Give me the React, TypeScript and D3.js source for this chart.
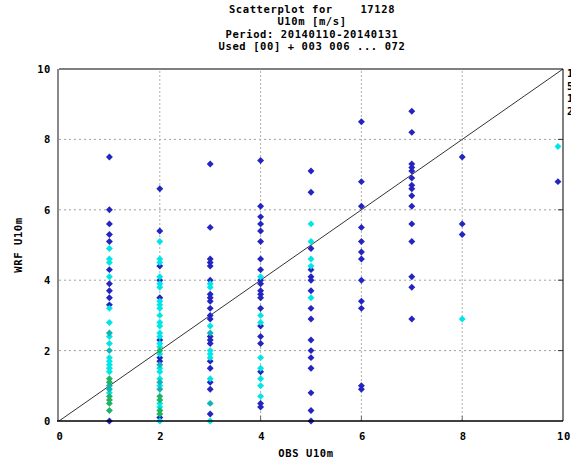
import React from "react";
import * as d3 from "d3";

const titleLines = [
  "Scatterplot for    17128",
  "U10m [m/s]",
  "Period: 20140110-20140131",
  "Used [00] + 003 006 ... 072",
];
const xLabel = "OBS U10m";
const yLabel = "WRF U10m";
const xTicks = [0, 2, 4, 6, 8, 10];
const yTicks = [0, 2, 4, 6, 8, 10];
const legendLabels = ["1", "5", "10", "25"];

// [OBS, WRF] pairs grouped by density colour
const bluePts: [number, number][] = [
  [1, 7.5], [1, 6.0], [1, 5.6], [1, 5.3], [1, 5.1], [1, 4.3], [1, 3.9], [1, 3.7], [1, 3.5], [1, 3.3], [1, 0.0],
  [2, 6.6], [2, 5.4], [2, 4.4], [2, 4.0], [2, 3.5], [2, 2.3], [2, 1.8], [2, 1.7], [2, 0.1],
  [3, 7.3], [3, 5.5], [3, 4.6], [3, 4.5], [3, 4.4], [3, 4.0], [3, 3.6], [3, 3.5], [3, 3.4], [3, 3.2], [3, 3.0], [3, 2.9],
  [3, 2.4], [3, 2.3], [3, 2.2], [3, 1.7], [3, 1.5], [3, 1.1], [3, 0.9], [3, 0.2],
  [4, 7.4], [4, 6.1], [4, 5.8], [4, 5.6], [4, 5.4], [4, 5.1], [4, 4.6], [4, 4.3], [4, 4.0], [4, 3.9], [4, 3.7], [4, 3.6],
  [4, 3.5], [4, 3.2], [4, 2.7], [4, 2.4], [4, 2.2], [4, 1.4], [4, 0.5], [4, 0.4],
  [5, 7.1], [5, 6.5], [5, 4.9], [5, 4.3], [5, 4.1], [5, 4.0], [5, 3.7], [5, 3.2], [5, 2.9], [5, 2.3], [5, 2.0], [5, 1.8],
  [5, 1.5], [5, 0.8], [5, 0.3], [5, 0.0],
  [6, 8.5], [6, 6.8], [6, 6.1], [6, 5.5], [6, 5.1], [6, 4.8], [6, 4.6], [6, 4.0], [6, 3.4], [6, 3.2], [6, 1.0], [6, 0.9],
  [7, 8.8], [7, 8.2], [7, 7.3], [7, 7.2], [7, 7.1], [7, 6.9], [7, 6.7], [7, 6.6], [7, 6.4], [7, 6.1], [7, 5.6], [7, 5.1],
  [7, 4.1], [7, 3.8], [7, 2.9],
  [8, 7.5], [8, 5.6], [8, 5.3],
  [9.9, 6.8],
];
const cyanPts: [number, number][] = [
  [1, 4.9], [1, 4.6], [1, 4.5], [1, 4.1], [1, 3.2], [1, 2.8], [1, 2.4], [1, 2.2], [1, 1.8], [1, 1.7], [1, 1.6], [1, 1.5],
  [1, 1.4], [1, 0.8],
  [2, 5.1], [2, 4.6], [2, 4.5], [2, 4.1], [2, 3.9], [2, 3.8], [2, 3.4], [2, 3.3], [2, 3.2], [2, 3.0], [2, 2.8], [2, 2.7],
  [2, 2.5], [2, 2.4], [2, 2.2], [2, 2.1], [2, 1.9], [2, 1.5], [2, 1.4], [2, 1.2], [2, 1.0], [2, 0.5], [2, 0.4], [2, 0.0],
  [3, 3.9], [3, 3.8], [3, 2.7], [3, 2.0], [3, 1.9], [3, 1.8], [3, 1.2], [3, 0.0],
  [4, 4.1], [4, 3.0], [4, 2.8], [4, 1.8], [4, 1.5], [4, 1.2], [4, 1.0], [4, 0.7],
  [5, 5.6], [5, 5.1], [5, 4.6], [5, 4.4], [5, 3.5],
  [8, 2.9],
  [9.9, 7.8],
];
const tealPts: [number, number][] = [
  [1, 2.5], [1, 2.0], [1, 1.0], [1, 0.9],
  [2, 1.6], [2, 1.1], [2, 0.9],
  [3, 2.5], [3, 0.5],
];
const greenPts: [number, number][] = [
  [1, 1.2], [1, 1.1], [1, 0.7], [1, 0.6], [1, 0.5], [1, 0.3],
  [2, 2.0], [2, 0.7], [2, 0.6], [2, 0.3], [2, 0.2],
];

const W = 571;
const H = 462;
const FONT = "'DejaVu Sans Mono', monospace";
const FS = 10.5;
const LS = 0.6;

export default function App() {
  const x = d3.scaleLinear().domain([0, 10]).range([59, 563]);
  const y = d3.scaleLinear().domain([0, 10]).range([421, 69]);
  const marker = d3.symbol().type(d3.symbolSquare).size(24)() as string;

  const series: { pts: [number, number][]; color: string }[] = [
    { pts: bluePts, color: "#2424c0" },
    { pts: cyanPts, color: "#00e6e6" },
    { pts: tealPts, color: "#10b4b4" },
    { pts: greenPts, color: "#1eb466" },
  ];

  const grid = [2, 4, 6, 8];
  const titleX = (x(0) + x(10)) / 2 + 1;

  return (
    <svg
      width={W}
      height={H}
      style={{ position: "absolute", left: 0, top: 0, background: "#fff" }}
      fontFamily={FONT}
      fontWeight="bold"
      letterSpacing={LS}
    >
      <rect x={0} y={0} width={W} height={H} fill="#fff" />
      {titleLines.map((t, i) => (
        <text key={t} x={titleX} y={13 + i * 12.3} textAnchor="middle" fontSize={FS} fill="#000" style={{ whiteSpace: "pre" }}>
          {t}
        </text>
      ))}
      {grid.map((g) => (
        <line key={"gy" + g} x1={x(0)} x2={x(10)} y1={y(g)} y2={y(g)} stroke="#a0a0a0" strokeDasharray="2,3" strokeWidth={1} />
      ))}
      {grid.map((g) => (
        <line key={"gx" + g} x1={x(g)} x2={x(g)} y1={y(0)} y2={y(10)} stroke="#b0b0b0" strokeDasharray="2,2" strokeWidth={1} />
      ))}
      {grid.map((g) => (
        <line key={"tx" + g} x1={x(g)} x2={x(g)} y1={y(0)} y2={y(0) - 5} stroke="#666" strokeWidth={1} />
      ))}
      {grid.map((g) => (
        <line key={"ty" + g} x1={x(10)} x2={x(10) - 5} y1={y(g)} y2={y(g)} stroke="#333" strokeWidth={1} />
      ))}
      <line x1={x(0)} y1={y(0)} x2={x(10)} y2={y(10)} stroke="#333" strokeWidth={1} />
      {series.map((s, si) =>
        s.pts.map((p, i) => (
          <path key={si + "-" + i} d={marker} transform={`translate(${x(p[0])},${y(p[1])}) rotate(45)`} fill={s.color} />
        ))
      )}
      <line x1={x(0)} x2={x(10)} y1={y(10)} y2={y(10)} stroke="#000" strokeWidth={1} />
      <line x1={x(10)} x2={x(10)} y1={y(10)} y2={y(0)} stroke="#000" strokeWidth={1} />
      <line x1={x(0) - 1} x2={x(0) - 1} y1={y(10)} y2={y(0)} stroke="#888" strokeWidth={2} />
      <line x1={x(0) - 2} x2={x(10)} y1={y(0)} y2={y(0)} stroke="#000" strokeWidth={1.5} />
      {yTicks.map((t) => (
        <text key={"yl" + t} x={51} y={y(t) + 4} textAnchor="end" fontSize={FS} fill="#000">
          {t}
        </text>
      ))}
      {xTicks.map((t) => (
        <text key={"xl" + t} x={x(t) + 1} y={440} textAnchor="middle" fontSize={FS} fill="#000">
          {t}
        </text>
      ))}
      <text x={306} y={457} textAnchor="middle" fontSize={FS} fill="#000">
        {xLabel}
      </text>
      <text transform={`translate(22,${(y(0) + y(10)) / 2}) rotate(-90)`} textAnchor="middle" fontSize={FS} fill="#000">
        {yLabel}
      </text>
      {legendLabels.map((l, i) => (
        <text key={"lg" + l} x={567} y={77 + i * 12.5} fontSize={FS} fill="#000">
          {l}
        </text>
      ))}
    </svg>
  );
}
